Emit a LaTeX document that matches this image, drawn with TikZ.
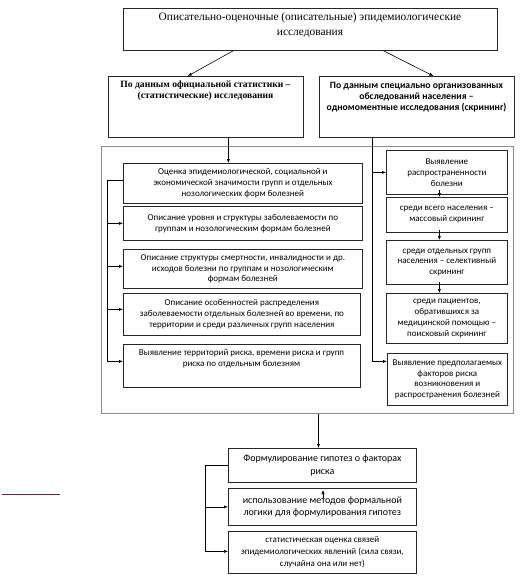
\documentclass[tikz,border=0pt]{standalone}
\usepackage{fontspec}
\setmainfont{Liberation Serif}
\newfontfamily\carl{Carlito}
\usetikzlibrary{arrows.meta}
\definecolor{maroonline}{RGB}{110,30,60}
\definecolor{framegray}{RGB}{140,140,140}
\begin{document}
\begin{tikzpicture}[x=1pt,y=-1pt,
 box/.style={draw=black!85, line width=0.7pt, rectangle, inner sep=0pt, anchor=north west, align=center, font=\carl\fontsize{9}{10.8}\selectfont},
 txt/.style={align=center, inner sep=0pt, font=\carl\fontsize{9}{10.8}\selectfont},
 arr/.style={-{Latex[length=4pt,width=3.2pt]}, line width=0.6pt},
 ln/.style={line width=0.6pt}]
\useasboundingbox (0,0) rectangle (523,578);

% top
\node[box, minimum width=374pt, minimum height=42pt] (T) at (123,8) {};
\node[txt, font=\fontsize{11.4}{15.5}\selectfont] (Tt) at (310,25) {Описательно-оценочные (описательные) эпидемиологические\\исследования};

\node[box, minimum width=195pt, minimum height=61pt] (L) at (108,76) {};
\node[txt, font=\bfseries\fontsize{9.6}{10.8}\selectfont] (Lt) at (205.5,91) {По данным официальной статистики –\\(статистические) исследования};

\node[box, minimum width=195pt, minimum height=61pt] (R) at (319,76) {};
\node[txt, font=\carl\bfseries\fontsize{9.7}{11.3}\selectfont] (Rt) at (416.5,97) {По данным специально организованных\\обследований населения –\\одномоментные исследования (скрининг)};

% container
\node[box, draw=framegray, line width=1pt, minimum width=412pt, minimum height=267pt] (C) at (101,146) {};

% left column
\node[box, minimum width=239pt, minimum height=40pt] (A1) at (123,163) {Оценка эпидемиологической, социальной и\\экономической значимости групп и отдельных\\нозологических форм болезней};
\node[box, minimum width=239pt, minimum height=34pt] (A2) at (123,206) {Описание уровня и структуры заболеваемости по\\группам и нозологическим формам болезней};
\node[box, minimum width=239pt, minimum height=39pt] (A3) at (123,249) {Описание структуры смертности, инвалидности и др.\\исходов болезни по группам и нозологическим\\формам болезней};
\node[box, minimum width=237pt, minimum height=42pt] (A4) at (123,293) {Описание особенностей распределения\\заболеваемости отдельных болезней во времени, по\\территории и среди различных групп населения};
\node[box, minimum width=237pt, minimum height=43pt] (A5) at (123,344) {};
\node[txt] (A5t) at (241.5,359) {Выявление территорий риска, времени риска и групп\\риска по отдельным болезням};

% right column
\node[box, minimum width=121pt, minimum height=44pt] (B1) at (386,150) {Выявление\\распространенности\\болезни};
\node[box, minimum width=121pt, minimum height=35pt] (B2) at (386,197) {среди всего населения –\\массовый скрининг};
\node[box, minimum width=121pt, minimum height=44pt] (B3) at (386,240) {среди отдельных групп\\населения – селективный\\скрининг};
\node[box, minimum width=121pt, minimum height=50pt] (B4) at (386,293) {среди пациентов,\\обратившихся за\\медицинской помощью –\\поисковый скрининг};
\node[box, minimum width=120pt, minimum height=52pt] (B5) at (387,353) {Выявление предполагаемых\\факторов риска\\возникновения и\\распространения болезней};

% bottom
\node[box, minimum width=188pt, minimum height=34pt, font=\carl\fontsize{10}{13}\selectfont] (D1) at (228,448) {Формулирование гипотез о факторах\\риска};
\node[box, minimum width=188pt, minimum height=37pt, font=\carl\fontsize{10}{11.5}\selectfont] (D2) at (228,488) {использование методов формальной\\логики для формулирования гипотез};
\node[box, minimum width=188pt, minimum height=42pt, font=\carl\fontsize{9}{12}\selectfont] (D3) at (228,531) {статистическая оценка связей\\эпидемиологических явлений (сила связи,\\случайна она или нет)};

% connectors top
\draw[arr] ([xshift=-77pt]T.south) -- ([xshift=-18pt]L.north);
\draw[arr] ([xshift=73pt]T.south) -- ([xshift=16.5pt]R.north);

\coordinate (lt) at ([xshift=22.5pt]L.south);
\draw[arr] (lt) -- (lt |- A1.north);

\coordinate (rj) at ([xshift=-44.5pt]R.south);
\coordinate (b5in) at ([yshift=18pt]B5.west);
\draw[arr] (rj) |- (b5in);
\draw[arr] (rj |- B1.west) -- (B1.west);

% left branch
\coordinate (a1out) at ([yshift=3pt]A1.west);
\coordinate (lj) at ([xshift=-16pt]a1out);
\coordinate (a3in) at ([yshift=2.5pt]A3.west);
\coordinate (a4in) at ([yshift=5pt]A4.west);
\coordinate (a5in) at ([yshift=4.5pt]A5.west);
\draw[arr] (a1out) -- (lj) |- (a5in);
\draw[arr] (lj |- A2.west) -- (A2.west);
\draw[arr] (lj |- a3in) -- (a3in);
\draw[arr] (lj |- a4in) -- (a4in);

% right chain
\coordinate (bx) at ([xshift=-7.5pt]B1.south);
\coordinate (b1o) at ([yshift=5pt]B1.south);
\coordinate (b2o) at ([yshift=3pt]B2.south);
\coordinate (b3o) at ([yshift=3pt]B3.south);
\draw[arr] (b1o -| bx) -- (B2.north -| bx);
\draw[arr] (b2o -| bx) -- (B3.north -| bx);
\draw[arr] (b3o -| bx) -- (B4.north -| bx);

% bottom
\coordinate (cd) at ([xshift=11pt]C.south);
\draw[arr] (cd) -- (cd |- D1.north);
\coordinate (dj) at ([xshift=-23pt]D1.west);
\coordinate (d3in) at ([yshift=1pt]D3.west);
\draw[ln] (D1.west) -- (dj);
\draw[arr] (dj) |- (d3in);
\draw[arr] (dj |- D2.west) -- (D2.west);

% stray arrow
\coordinate (s1) at (323,498);
\coordinate (s2) at (323,490);
\draw[arr] (s1) -- (s2);

% maroon line
\coordinate (m1) at (2,494);
\coordinate (m2) at (60,494);
\draw[maroonline, line width=0.8pt] (m1) -- (m2);
\end{tikzpicture}
\end{document}
